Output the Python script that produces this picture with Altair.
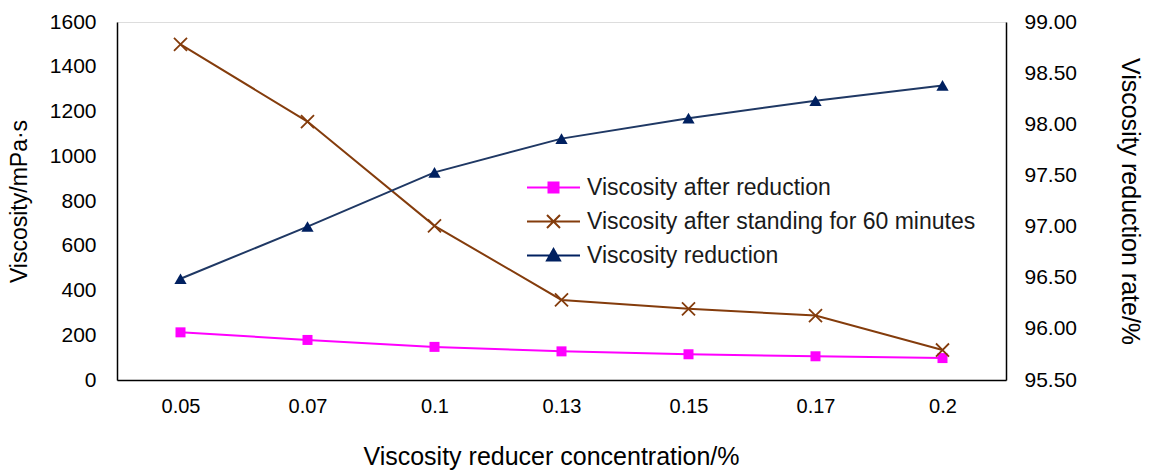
import altair as alt
import pandas as pd

concentration = ["0.05", "0.07", "0.1", "0.13", "0.15", "0.17", "0.2"]
after_reduction = [213, 179, 148, 128, 115, 106, 98]
after_standing = [1500, 1155, 689, 358, 318, 288, 134]
reduction_rate = [96.49, 97.00, 97.53, 97.86, 98.06, 98.23, 98.38]

series_names = [
    "Viscosity after reduction",
    "Viscosity after standing for 60 minutes",
    "Viscosity reduction",
]
series_colors = ["#FF00FF", "#843C0C", "#002060"]
line_colors = ["#FF00FF", "#843C0C", "#1F3864"]

left_ticks = [0, 200, 400, 600, 800, 1000, 1200, 1400, 1600]
right_ticks = [95.5, 96.0, 96.5, 97.0, 97.5, 98.0, 98.5, 99.0]

pink_df = pd.DataFrame({"conc": concentration, "v": after_reduction})
brown_df = pd.DataFrame({"conc": concentration, "v": after_standing})
blue_df = pd.DataFrame({"conc": concentration, "v": reduction_rate})

FONT = "Liberation Sans"
TXT = "#1a1a1a"

x_enc = alt.X(
    "conc:O",
    sort=concentration,
    scale=alt.Scale(type="point", padding=0.5),
    axis=alt.Axis(
        title="Viscosity reducer concentration/%",
        labelAngle=0,
        ticks=False,
        labelPadding=16,
        titlePadding=28,
        titleX=434,
        labelFontSize=20,
        titleFontSize=25,
        titleFontWeight="normal",
        domainColor="#000000",
        domainWidth=1.5,
    ),
)

left_scale = alt.Scale(domain=[0, 1600], nice=False)
right_scale = alt.Scale(domain=[95.5, 99.0], nice=False, zero=False)

left_axis = alt.Axis(
    title="Viscosity/mPa·s",
    values=left_ticks,
    format="d",
    ticks=False,
    labelPadding=21,
    titlePadding=18,
    labelFontSize=21,
    titleFontSize=23,
    titleFontWeight="normal",
    grid=False,
    domainColor="#000000",
    domainWidth=1.5,
)
right_axis = alt.Axis(
    title="Viscosity reduction rate/%",
    orient="right",
    values=right_ticks,
    format=".2f",
    ticks=False,
    labelPadding=18,
    titlePadding=40,
    labelFontSize=21,
    titleFontSize=25,
    titleFontWeight="normal",
    grid=False,
    domainColor="#000000",
    domainWidth=1.5,
)

yl = alt.Y("v:Q", scale=left_scale, axis=left_axis)
yr = alt.Y("v:Q", scale=right_scale, axis=right_axis)

pink_line = alt.Chart(pink_df).mark_line(strokeWidth=2, color=line_colors[0]).encode(x=x_enc, y=yl)
pink_pts = alt.Chart(pink_df).mark_point(
    shape="square", filled=True, size=100, opacity=1, color=series_colors[0]
).encode(x=x_enc, y=yl)
brown_line = alt.Chart(brown_df).mark_line(strokeWidth=2, color=line_colors[1]).encode(x=x_enc, y=yl)
brown_pts = alt.Chart(brown_df).mark_point(
    shape="M-1,-1L1,1M-1,1L1,-1", filled=False, size=170, strokeWidth=1.8, opacity=1, color=series_colors[1]
).encode(x=x_enc, y=yl)
left_layer = alt.layer(pink_line, brown_line, pink_pts, brown_pts)

blue_line = alt.Chart(blue_df).mark_line(strokeWidth=2, color=line_colors[2]).encode(x=x_enc, y=yr)
blue_pts = alt.Chart(blue_df).mark_point(
    shape="triangle-up", filled=True, size=150, opacity=1, color=series_colors[2]
).encode(x=x_enc, y=yr)
right_layer = alt.layer(blue_line, blue_pts)

legend_shapes = [
    "M-5.3,0L5.3,0M-1,-1L1,-1L1,1L-1,1Z",
    "M-5.3,0L5.3,0M-1.3,-1.3L1.3,1.3M-1.3,1.3L1.3,-1.3",
    "M-5.3,0L5.3,0M0,-1.3L1.3,1L-1.3,1Z",
]
leg = alt.Legend(
    title=None,
    orient="none",
    legendX=425,
    legendY=154,
    symbolSize=100,
    symbolStrokeWidth=2,
    symbolOpacity=1,
    labelOffset=22,
    labelFontSize=23,
    labelFont=FONT,
    labelColor=TXT,
    rowPadding=10,
    padding=0,
    labelLimit=600,
)
legend_df = pd.DataFrame({"entry": series_names, "conc": [concentration[0]] * 3, "v": [0, 0, 0]})
legend_layer = alt.Chart(legend_df).mark_point(filled=True, size=0).encode(
    x=x_enc,
    y=alt.Y("v:Q", scale=alt.Scale(domain=[0, 1]), axis=None),
    fill=alt.Fill("entry:N", scale=alt.Scale(domain=series_names, range=series_colors), legend=leg),
    stroke=alt.Stroke("entry:N", scale=alt.Scale(domain=series_names, range=series_colors), legend=leg),
    shape=alt.Shape("entry:N", scale=alt.Scale(domain=series_names, range=legend_shapes), legend=leg),
)

chart = (
    alt.layer(left_layer, right_layer, legend_layer)
    .resolve_scale(y="independent")
    .properties(
        width=889,
        height=358,
        autosize=alt.AutoSizeParams(type="none"),
        padding={"left": 117, "top": 22, "right": 147, "bottom": 92},
    )
    .configure_view(stroke=None)
    .configure_axis(labelFont=FONT, titleFont=FONT, labelColor=TXT, titleColor=TXT)
    .configure(background="white")
)

chart.save("out.html", embed_options={"renderer": "svg", "actions": False})
